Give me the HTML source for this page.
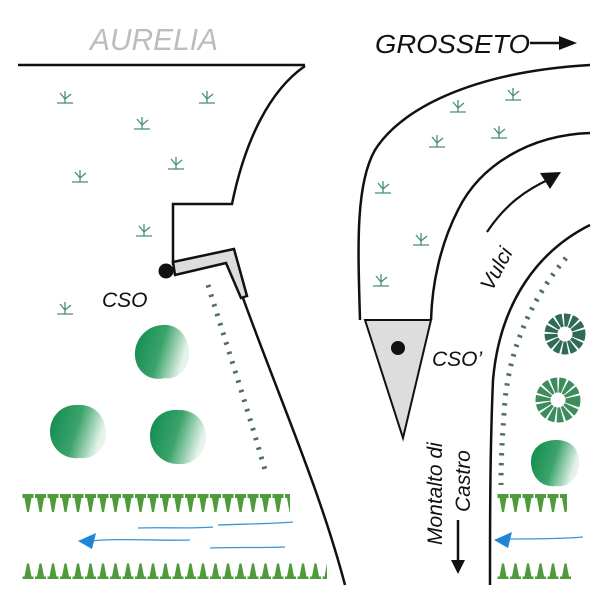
<!DOCTYPE html>
<html><head><meta charset="utf-8"><style>
html,body{margin:0;padding:0;background:#fff;}
svg{display:block;}
text{font-family:"Liberation Sans",Arial,sans-serif;font-style:italic;}
</style></head><body>
<svg width="600" height="600" viewBox="0 0 600 600" xmlns="http://www.w3.org/2000/svg">
<defs>
<pattern id="gt" x="22" y="494" width="12.5" height="20" patternUnits="userSpaceOnUse">
<path d="M0.5,0 h11 v4 h-2 l-2.5,14 h-2 l-2.5,-14 h-2z" fill="#4f9a3a"/>
</pattern>
<pattern id="gb" x="22" y="562" width="12.5" height="18" patternUnits="userSpaceOnUse">
<path d="M0.5,17 h11 v-2.5 h-2 l-2.5,-13 h-2 l-2.5,13 h-2z" fill="#4f9a3a"/>
</pattern>
<linearGradient id="tg" x1="0" y1="0" x2="1" y2="0.3">
<stop offset="0" stop-color="#0d8a4e"/><stop offset="0.55" stop-color="#3aa36a"/><stop offset="1" stop-color="#e6f3ea"/>
</linearGradient>
<g id="tuft" stroke="#4a8c7a" stroke-width="1.3" fill="none">
<path d="M-8,6 h16 M0,6 v-12 M0,2 l-5,-6 M0,2 l6,-5"/>
</g>
</defs>

<text x="90" y="50" font-size="31" fill="#bdbdbd" textLength="128" lengthAdjust="spacingAndGlyphs">AURELIA</text>
<text x="375" y="53" font-size="26" fill="#111" textLength="155" lengthAdjust="spacingAndGlyphs">GROSSETO</text>
<path d="M530,43 h32" stroke="#111" stroke-width="2.5"/>
<path d="M559,36 L577,43 L559,50z" fill="#111"/>

<!-- left road -->
<path d="M18,65 H305" stroke="#111" stroke-width="2.5" fill="none"/>
<path d="M305,66 C270,90 245,140 232,204 H173 V265" stroke="#111" stroke-width="2.5" fill="none"/>
<path d="M173,262 L234,249 L247,296 L241,298 L226,263 L175,275z" fill="#ddd" stroke="#111" stroke-width="2.5" stroke-linejoin="miter"/>
<circle cx="166" cy="271" r="7.5" fill="#111"/>
<path d="M243,298 C280,400 320,490 345,585" stroke="#111" stroke-width="2.5" fill="none"/>
<path d="M208,285 C225,340 245,400 265,470" stroke="#4f6f60" stroke-width="5" stroke-dasharray="2.5,7.5" fill="none"/>
<text x="102" y="307" font-size="21" fill="#111">CSO</text>

<!-- right roads -->
<path d="M590,65 C470,72 400,110 375,150 C355,185 358,250 360,320" stroke="#111" stroke-width="2.5" fill="none"/>
<path d="M590,133 C530,135 480,165 458,210 C440,245 432,285 431,320" stroke="#111" stroke-width="2.5" fill="none"/>
<path d="M365,320 H431 L403,438z" fill="#ddd" stroke="#111" stroke-width="2"/>
<circle cx="398" cy="348" r="7" fill="#111"/>
<path d="M590,225 C540,250 500,300 493,380 C490,450 490,520 490,585" stroke="#111" stroke-width="2.5" fill="none"/>
<path d="M566,258 C530,300 510,350 505,400 C502,440 501,460 501,485" stroke="#4f6f60" stroke-width="5" stroke-dasharray="2.5,7.5" fill="none"/>
<path d="M487,232 C505,205 525,190 552,178" stroke="#111" stroke-width="2.2" fill="none"/>
<path d="M561,172 L540,173 L550,189z" fill="#111"/>
<text transform="translate(492,292) rotate(-62)" font-size="21" fill="#111">Vulci</text>
<text x="432" y="366" font-size="21" fill="#111">CSO’</text>
<text transform="translate(442,545) rotate(-90)" font-size="21" fill="#111">Montalto di</text>
<text transform="translate(470,512) rotate(-90)" font-size="21" fill="#111">Castro</text>
<path d="M458,520 V563" stroke="#111" stroke-width="2.5"/>
<path d="M451,560 L458,574 L465,560z" fill="#111"/>

<!-- tufts -->
<use href="#tuft" x="65" y="97"/><use href="#tuft" x="207" y="97"/><use href="#tuft" x="142" y="123"/>
<use href="#tuft" x="176" y="163"/><use href="#tuft" x="80" y="176"/><use href="#tuft" x="144" y="230"/>
<use href="#tuft" x="65" y="308"/>
<use href="#tuft" x="513" y="94"/><use href="#tuft" x="458" y="106"/><use href="#tuft" x="499" y="132"/>
<use href="#tuft" x="437" y="141"/><use href="#tuft" x="383" y="187"/><use href="#tuft" x="421" y="239"/>
<use href="#tuft" x="381" y="280"/>

<!-- trees -->
<path d="M162,325 C180,323 190,340 189,355 C188,372 175,380 165,378 C150,382 136,372 135,356 C134,340 146,326 162,325z" fill="url(#tg)"/>
<path d="M78,405 C96,404 106,418 106,433 C106,450 92,460 80,458 C64,460 50,448 50,432 C50,416 62,404 78,405z" fill="url(#tg)"/>
<path d="M178,410 C196,409 207,424 206,438 C205,455 192,465 180,464 C163,465 150,452 150,436 C150,420 162,409 178,410z" fill="url(#tg)"/>
<path d="M556,440 C574,440 580,452 579,465 C578,480 566,488 556,486 C540,488 531,475 531,462 C531,448 542,440 556,440z" fill="url(#tg)"/>
<circle cx="565" cy="334" r="14" fill="none" stroke="#2f6b55" stroke-width="13" stroke-dasharray="5,1.5"/>
<circle cx="558" cy="400" r="15" fill="none" stroke="#3d8c5e" stroke-width="15" stroke-dasharray="5,1.5"/>

<!-- grass rows -->
<rect x="22" y="494" width="268" height="20" fill="url(#gt)"/>
<rect x="22" y="562" width="305" height="18" fill="url(#gb)"/>
<rect x="497" y="494" width="70" height="20" fill="url(#gt)"/>
<rect x="496" y="562" width="75" height="18" fill="url(#gb)"/>

<!-- water -->
<g stroke="#3a96d8" stroke-width="1.3" fill="none">
<path d="M138,528 C160,527 190,529 213,527"/>
<path d="M218,525 C240,524 270,524 293,522"/>
<path d="M90,541 C120,538 160,541 190,540"/>
<path d="M210,548 C230,547 260,548 285,547"/>
<path d="M505,539 C530,539 560,539 583,537"/>
</g>
<path d="M78,541 L96,533 L92,549z" fill="#1f85d6"/>
<path d="M494,540 L512,532 L508,548z" fill="#1f85d6"/>
</svg>
</body></html>
